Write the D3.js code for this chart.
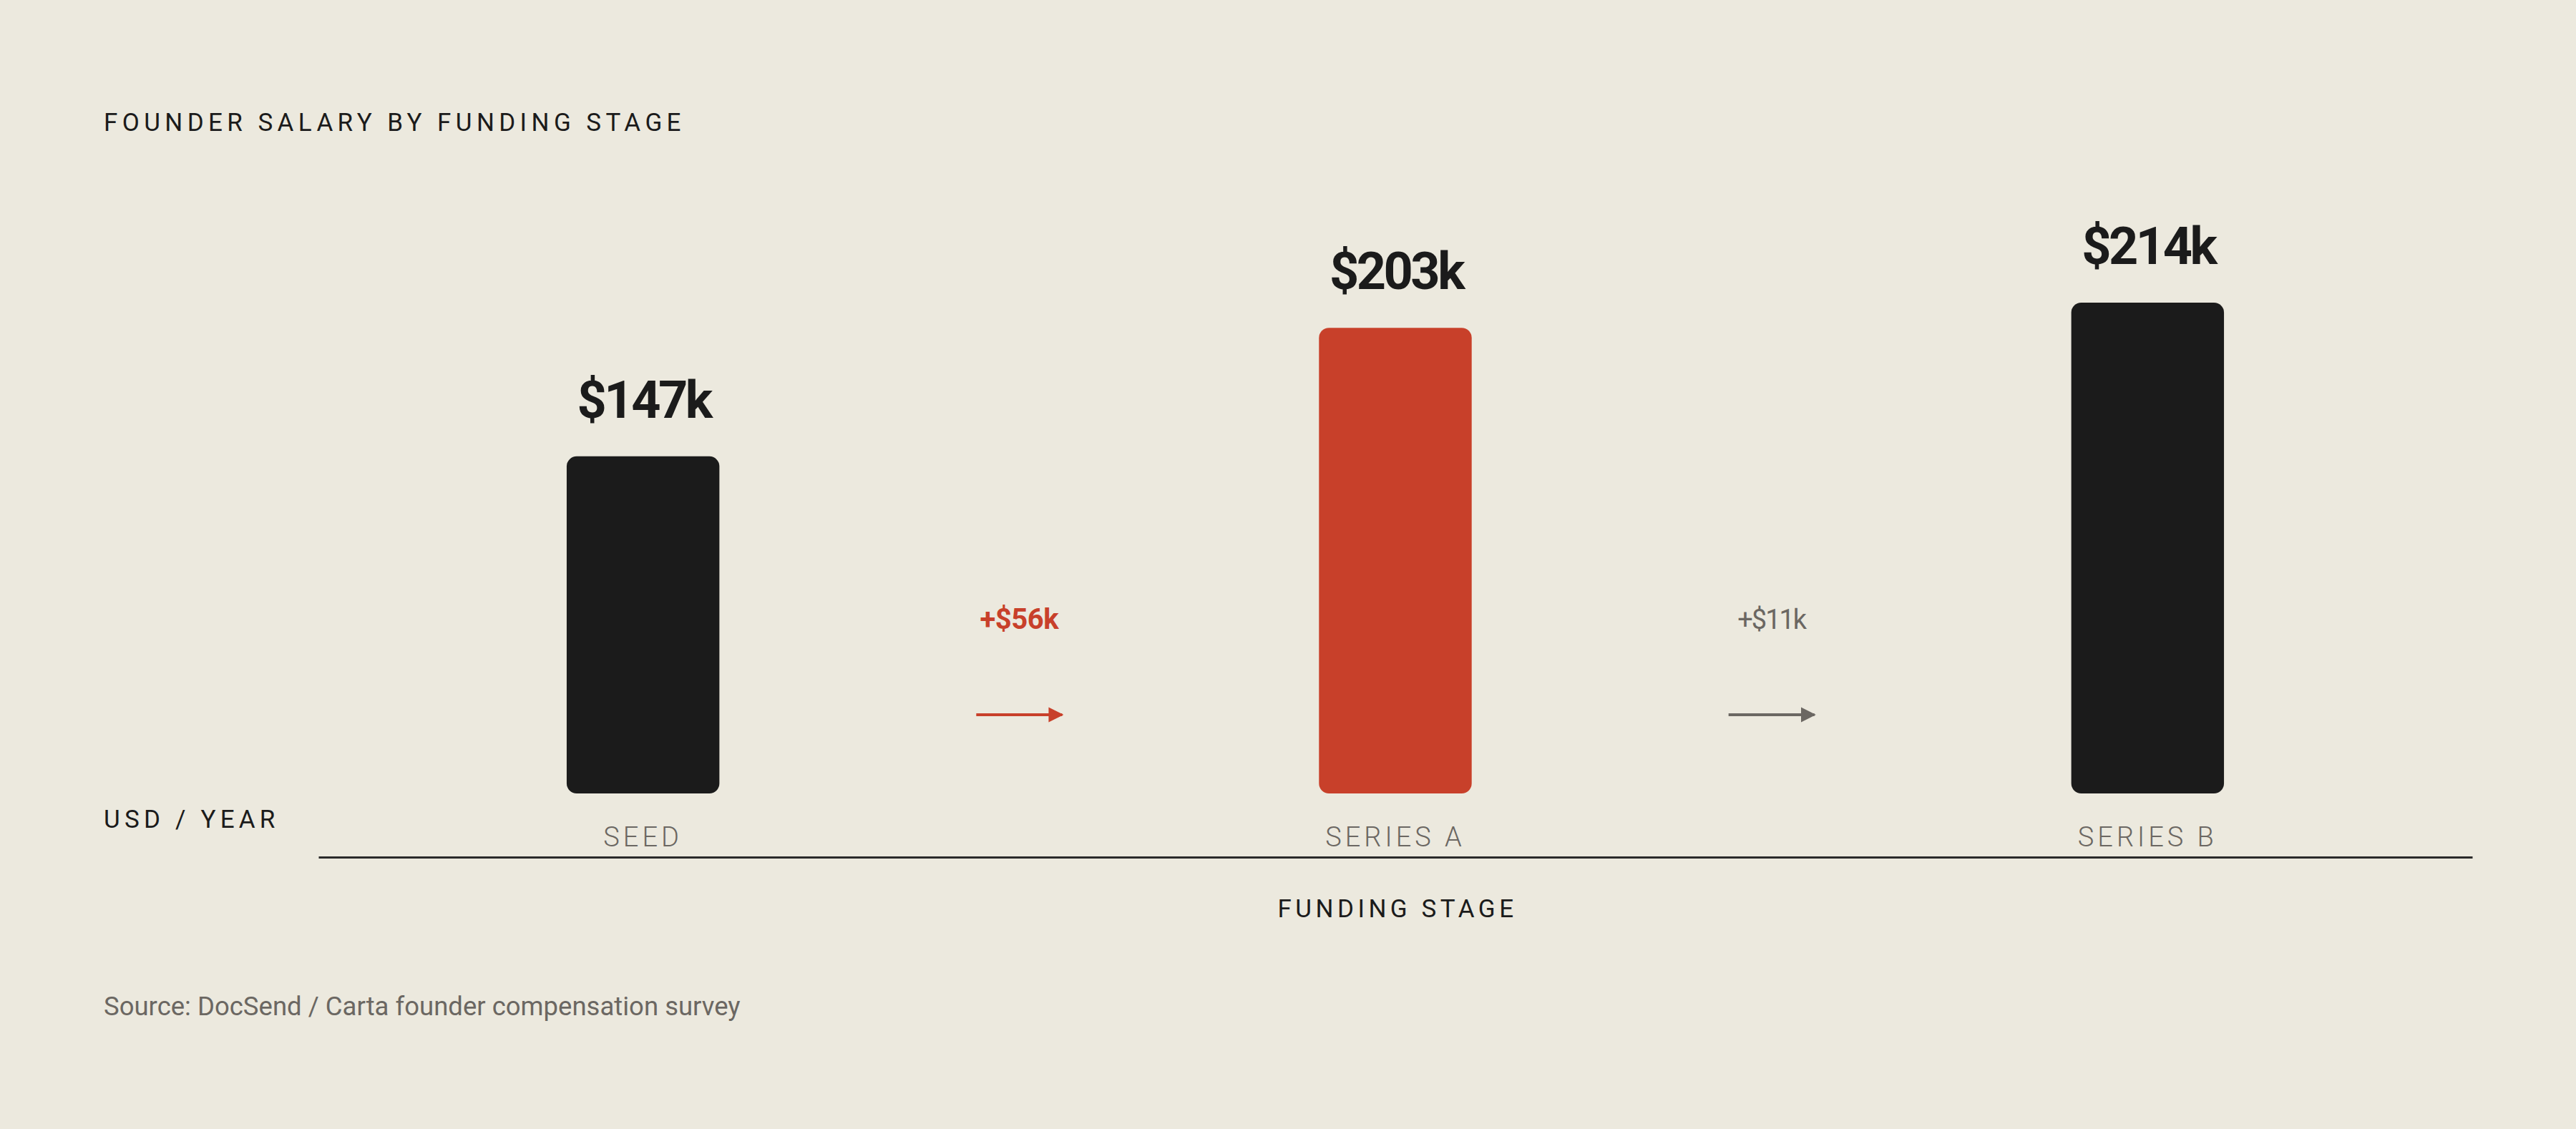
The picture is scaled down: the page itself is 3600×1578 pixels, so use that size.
<!DOCTYPE html>
<html>
<head>
<meta charset="utf-8">
<script src="https://cdn.jsdelivr.net/npm/d3@7"></script>
<style>
  body { margin: 0; background: #ece9de; }
  svg { display: block; }
  text { font-family: Roboto, "Noto Sans", sans-serif; }
</style>
</head>
<body>
<div id="chart"></div>
<script>
// data
var stages = ['SEED', 'SERIES A', 'SERIES B'];
var salaries = [147, 203, 214]; // thousand USD / year
var highlight = ['SERIES A'];

var svgWidth = 3600;
var svgHeight = 1578;

var ink = '#1b1b1b';
var red = '#c8402a';
var grey = '#6b6762';

var svg = d3.select('#chart')
    .append('svg')
    .attr('width', svgWidth)
    .attr('height', svgHeight);

svg.append('rect')
    .attr('width', svgWidth)
    .attr('height', svgHeight)
    .attr('fill', '#ece9de');

var baseY = 1109;

var xScale = d3.scaleBand()
    .domain(stages)
    .range([445, 3455])
    .paddingInner(0.797)
    .paddingOuter(0.33);

var yScale = d3.scaleLinear()
    .domain([0, 214])
    .range([baseY, 423]);

var data = stages.map(function(s, i) {
    return { stage: s, value: salaries[i] };
});

// title
svg.append('text')
    .attr('x', 145)
    .attr('y', 183)
    .attr('font-size', 35)
    .attr('letter-spacing', '6.4px')
    .attr('fill', ink)
    .text('FOUNDER SALARY BY FUNDING STAGE');

// bars
svg.append('g').selectAll('rect')
    .data(data)
    .enter()
    .append('rect')
    .attr('x', d => xScale(d.stage))
    .attr('y', d => yScale(d.value))
    .attr('width', xScale.bandwidth())
    .attr('height', d => baseY - yScale(d.value))
    .attr('rx', 14)
    .attr('fill', d => highlight.includes(d.stage) ? red : ink);

// value labels
svg.append('g').selectAll('text')
    .data(data)
    .enter()
    .append('text')
    .attr('x', d => xScale(d.stage) + xScale.bandwidth() / 2 + 1)
    .attr('y', d => yScale(d.value) - 54)
    .attr('text-anchor', 'middle')
    .attr('font-size', 72)
    .attr('font-weight', 700)
    .attr('letter-spacing', '-3.5px')
    .attr('fill', ink)
    .text(d => '$' + d.value + 'k');

// step changes between neighbouring stages
var steps = d3.pairs(data).map(function(p) {
    return {
        mid: (xScale(p[0].stage) + xScale(p[1].stage)) / 2 + xScale.bandwidth() / 2,
        delta: p[1].value - p[0].value,
        hot: highlight.includes(p[1].stage)
    };
});

var defs = svg.append('defs');
['red', 'grey'].forEach(function(name) {
    defs.append('marker')
        .attr('id', 'head-' + name)
        .attr('viewBox', '0 0 10 10')
        .attr('refX', 9)
        .attr('refY', 5)
        .attr('markerUnits', 'userSpaceOnUse')
        .attr('markerWidth', 21)
        .attr('markerHeight', 23)
        .attr('orient', 'auto')
        .append('path')
        .attr('d', 'M0,0 L10,5 L0,10 Z')
        .attr('fill', name == 'red' ? red : grey);
});

var stepGroup = svg.append('g');

stepGroup.selectAll('text')
    .data(steps)
    .enter()
    .append('text')
    .attr('x', d => d.mid)
    .attr('y', 879)
    .attr('text-anchor', 'middle')
    .attr('font-size', d => d.hot ? 40 : 38)
    .attr('font-weight', d => d.hot ? 700 : 400)
    .attr('letter-spacing', d => d.hot ? '-0.5px' : '-2px')
    .attr('fill', d => d.hot ? red : grey)
    .text(d => '+$' + d.delta + 'k');

stepGroup.selectAll('line')
    .data(steps)
    .enter()
    .append('line')
    .attr('x1', d => d.mid - 60)
    .attr('x2', d => d.mid + 60)
    .attr('y1', 999)
    .attr('y2', 999)
    .attr('stroke', d => d.hot ? red : grey)
    .attr('stroke-width', 4)
    .attr('marker-end', d => d.hot ? 'url(#head-red)' : 'url(#head-grey)');

// x axis: baseline and category labels
var bottomAxis = d3.axisBottom(xScale).tickSize(0).tickPadding(0);
var xAxis = svg.append('g')
    .attr('transform', 'translate(0,1198)')
    .call(bottomAxis);

xAxis.select('.domain')
    .attr('stroke', '#2a2a2a')
    .attr('stroke-width', 2.8);

xAxis.selectAll('.tick text')
    .attr('y', -15)
    .attr('dy', null)
    .attr('font-size', 38)
    .attr('font-weight', 300)
    .attr('letter-spacing', '5px')
    .attr('fill', grey)
    .attr('font-family', 'Roboto, sans-serif');

svg.append('text')
    .attr('x', 145)
    .attr('y', 1157)
    .attr('font-size', 35)
    .attr('letter-spacing', '6.2px')
    .attr('fill', ink)
    .text('USD / YEAR');

svg.append('text')
    .attr('x', 1950 + 3)
    .attr('y', 1282)
    .attr('text-anchor', 'middle')
    .attr('font-size', 35)
    .attr('letter-spacing', '5.5px')
    .attr('fill', ink)
    .text('FUNDING STAGE');

svg.append('text')
    .attr('x', 145)
    .attr('y', 1419)
    .attr('font-size', 36.5)
    .attr('fill', grey)
    .text('Source: DocSend / Carta founder compensation survey');
</script>
</body>
</html>
